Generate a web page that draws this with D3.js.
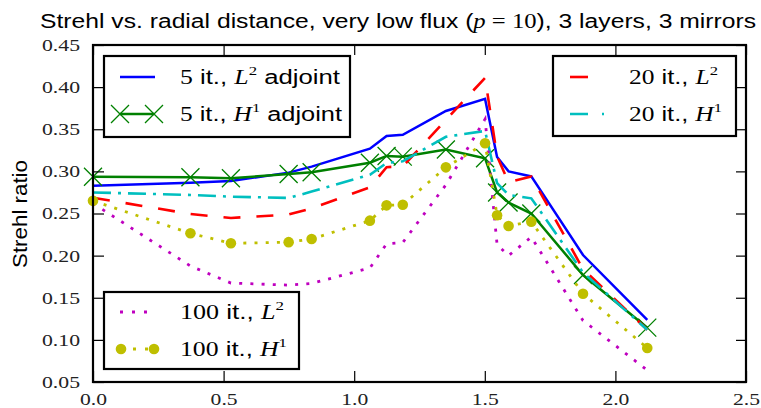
<!DOCTYPE html>
<html>
<head>
<meta charset="utf-8">
<script src="https://cdn.jsdelivr.net/npm/d3@7"></script>
<style>
  body { margin: 0; background: #fff; }
  svg { display: block; }
</style>
</head>
<body>
<svg width="761" height="408"></svg>
<script>
// radial distance of each evaluation point
var radial = [0, 0.373, 0.528, 0.749, 0.837, 1.06, 1.124, 1.186, 1.351, 1.501, 1.547, 1.591, 1.678, 1.876, 2.122];

// strehl ratio per run
var it5L2   = [0.283, 0.2866, 0.2886, 0.2985, 0.3056, 0.327, 0.342, 0.3435, 0.3717, 0.386, 0.317, 0.300, 0.294, 0.2007, 0.1236];
var it5H1   = [0.2937, 0.293, 0.2918, 0.2969, 0.2989, 0.3103, 0.3183, 0.3175, 0.326, 0.3155, 0.275, 0.263, 0.25, 0.177, 0.1145];
var it20L2  = [0.2688, 0.2494, 0.2447, 0.2488, 0.256, 0.281, 0.305, 0.306, 0.361, 0.411, 0.318, 0.287, 0.294, 0.184, 0.112];
var it20H1  = [0.275, 0.272, 0.27, 0.2685, 0.276, 0.296, 0.31, 0.312, 0.341, 0.348, 0.286, 0.272, 0.268, 0.18, 0.112];
var it100L2 = [0.262, 0.1877, 0.1675, 0.165, 0.167, 0.1853, 0.214, 0.2156, 0.284, 0.362, 0.213, 0.2, 0.222, 0.123, 0.064];
var it100H1 = [0.265, 0.2265, 0.2146, 0.216, 0.2197, 0.2415, 0.2597, 0.2604, 0.3048, 0.3333, 0.2479, 0.2352, 0.2403, 0.1548, 0.0904];

var xTicks = [0, 0.5, 1.0, 1.5, 2.0, 2.5];
var yTicks = [0.05, 0.10, 0.15, 0.20, 0.25, 0.30, 0.35, 0.40, 0.45];

var sans = "'Liberation Sans', Arial, sans-serif";
var serif = "'Liberation Serif', 'DejaVu Serif', serif";

var svg = d3.select("svg");

var x = d3.scaleLinear().domain([0, 2.5]).range([93, 746]);
var y = d3.scaleLinear().domain([0.05, 0.45]).range([382, 45]);

// series: drawing order and style
var series = [
  {vals: it5L2,   color: "#0000ff", dash: null,         width: 2.5, marker: null},
  {vals: it5H1,   color: "#008000", dash: null,         width: 2.5, marker: "x"},
  {vals: it20L2,  color: "#ff0000", dash: "17,16",      width: 2.6, marker: null},
  {vals: it20H1,  color: "#00bfbf", dash: "18,7,3,7",   width: 2.6, marker: null},
  {vals: it100L2, color: "#bf00bf", dash: "3,8.2",      width: 2.8, marker: null},
  {vals: it100H1, color: "#bfbf00", dash: "3,8.2",      width: 2.8, marker: "o"}
];

var line = d3.line()
  .x(function(d) { return x(d[0]); })
  .y(function(d) { return y(d[1]); });

var plot = svg.append("g");

series.forEach(function(s) {
  var pts = radial.map(function(r, i) { return [r, s.vals[i]]; });
  plot.append("path")
    .attr("d", line(pts))
    .attr("fill", "none")
    .attr("stroke", s.color)
    .attr("stroke-width", s.width)
    .attr("stroke-dasharray", s.dash)
    .attr("stroke-linejoin", "miter");

  if (s.marker == "x") {
    plot.selectAll(null).data(pts).enter().append("path")
      .attr("transform", function(d) { return "translate(" + x(d[0]) + "," + y(d[1]) + ")"; })
      .attr("d", "M-9,-9L9,9M-9,9L9,-9")
      .attr("stroke", s.color)
      .attr("stroke-width", 1.3)
      .attr("fill", "none");
  }
  if (s.marker == "o") {
    plot.selectAll(null).data(pts).enter().append("circle")
      .attr("cx", function(d) { return x(d[0]); })
      .attr("cy", function(d) { return y(d[1]); })
      .attr("r", 5.3)
      .attr("fill", s.color);
  }
});

// axes (ticks point inward)
function styleAxis(g) {
  g.select(".domain").remove();
  g.selectAll(".tick line").attr("stroke", "#000").attr("stroke-width", 1.2);
}

var yAxis = svg.append("g")
  .attr("transform", "translate(93,0)")
  .call(d3.axisLeft(y).tickValues(yTicks).tickSize(-11).tickPadding(13).tickFormat(d3.format(".2f")))
  .call(styleAxis);
yAxis.selectAll("text")
  .attr("font-family", serif).attr("font-size", 16.5).attr("fill", "#222")
  .attr("dy", "0.33em")
  .attr("textLength", 38).attr("lengthAdjust", "spacingAndGlyphs");

var xAxis = svg.append("g")
  .attr("transform", "translate(0,382)")
  .call(d3.axisBottom(x).tickValues(xTicks).tickSize(-11).tickFormat(d3.format(".1f")))
  .call(styleAxis);
xAxis.selectAll("text")
  .attr("font-family", serif).attr("font-size", 16.5).attr("fill", "#222")
  .attr("y", 23).attr("dy", 0)
  .attr("textLength", 27).attr("lengthAdjust", "spacingAndGlyphs");

svg.append("g").attr("transform", "translate(746,0)")
  .call(d3.axisRight(y).tickValues(yTicks).tickSize(-10).tickFormat(""))
  .call(styleAxis);
svg.append("g").attr("transform", "translate(0,45)")
  .call(d3.axisTop(x).tickValues(xTicks).tickSize(-10).tickFormat(""))
  .call(styleAxis);

// frame
svg.append("rect")
  .attr("x", 93).attr("y", 45).attr("width", 653).attr("height", 337)
  .attr("fill", "none").attr("stroke", "#000").attr("stroke-width", 2.2);

// title
var title = svg.append("text")
  .attr("x", 40).attr("y", 28)
  .attr("font-family", sans).attr("font-size", 20)
  .attr("textLength", 716).attr("lengthAdjust", "spacingAndGlyphs");
title.append("tspan").text("Strehl vs. radial distance, very low flux (");
title.append("tspan").attr("font-family", serif).attr("font-style", "italic").text("p");
title.append("tspan").attr("font-family", serif).text(" = 10");
title.append("tspan").text("), 3 layers, 3 mirrors");

// y label
svg.append("text")
  .attr("transform", "translate(27,214) rotate(-90)")
  .attr("text-anchor", "middle")
  .attr("font-family", sans).attr("font-size", 20)
  .attr("textLength", 108).attr("lengthAdjust", "spacingAndGlyphs")
  .text("Strehl ratio");

// legends
function label(t, it, space, width, baseline, x0) {
  var el = svg.append("text").attr("x", x0).attr("y", baseline)
    .attr("font-family", sans).attr("font-size", 20)
    .attr("textLength", width).attr("lengthAdjust", "spacingAndGlyphs");
  el.append("tspan").attr("font-family", serif).text(it);
  el.append("tspan").text(" it., ");
  el.append("tspan").attr("font-family", serif).attr("font-style", "italic").text(space[0]);
  el.append("tspan").attr("font-family", serif).attr("font-size", 13).attr("dy", -9).text(space[1]);
  if (t) el.append("tspan").attr("dy", 9).text(t);
}

function box(x0, y0, w, h) {
  svg.append("rect").attr("x", x0).attr("y", y0).attr("width", w).attr("height", h)
    .attr("fill", "#fff").attr("stroke", "#000").attr("stroke-width", 2.2);
}

function sample(s, x0, x1, yy, dash) {
  svg.append("line").attr("x1", x0).attr("x2", x1).attr("y1", yy).attr("y2", yy)
    .attr("stroke", s.color).attr("stroke-width", s.width)
    .attr("stroke-dasharray", dash || s.dash);
  [x0, x1].forEach(function(xx) {
    if (s.marker == "x") {
      svg.append("path").attr("transform", "translate(" + xx + "," + yy + ")")
        .attr("d", "M-9,-9L9,9M-9,9L9,-9").attr("stroke", s.color).attr("stroke-width", 1.3);
    }
    if (s.marker == "o") {
      svg.append("circle").attr("cx", xx).attr("cy", yy).attr("r", 5.3).attr("fill", s.color);
    }
  });
}

box(104, 56, 246, 81);
sample(series[0], 120, 155, 77);
sample(series[1], 120, 154, 114);
label(" adjoint", "5", "L2", 160, 84, 180);
label(" adjoint", "5", "H1", 162, 121, 180);

box(553, 56, 183, 80);
sample(series[2], 570, 605, 77, "18,20");
sample(series[3], 570, 605, 114, "18,14,2,14");
label(null, "20", "L2", 89, 84, 629);
label(null, "20", "H1", 93, 121, 629);

box(104, 292, 195, 77);
sample(series[4], 120, 155, 312, "3,9");
sample(series[5], 121, 154, 349, "3,9");
label(null, "100", "L2", 104, 319, 180);
label(null, "100", "H1", 107, 356, 180);
</script>
</body>
</html>
